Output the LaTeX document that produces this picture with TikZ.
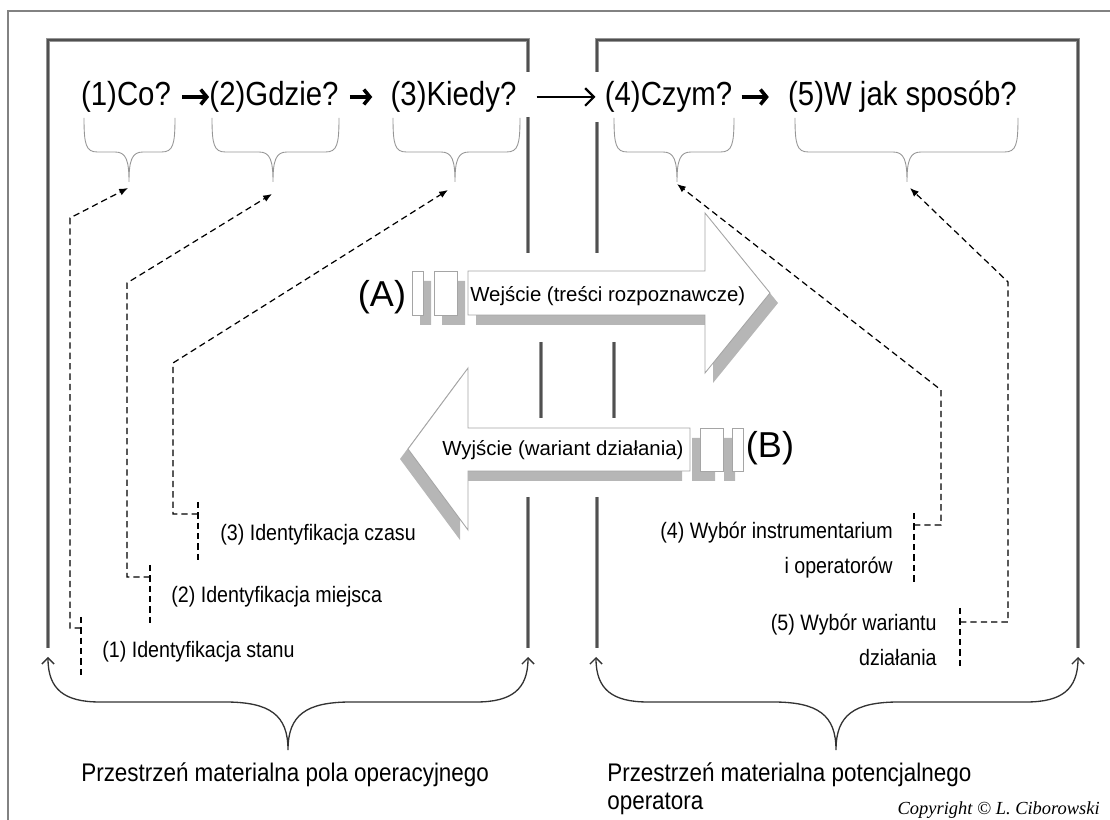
\documentclass[tikz,border=0pt]{standalone}
\usepackage{fontspec}
\setmainfont{Liberation Sans}
\newfontfamily\narrowfont[FakeStretch=0.88]{Liberation Sans}
\newfontfamily\copyfont{Liberation Serif}
\usetikzlibrary{arrows.meta}

\definecolor{wallgray}{RGB}{80,80,80}
\definecolor{walledge}{RGB}{150,150,150}
\definecolor{shadegray}{RGB}{182,182,182}
\definecolor{bracegray}{RGB}{150,150,150}
\definecolor{framegray}{RGB}{130,130,130}
\definecolor{arrowline}{RGB}{165,165,165}

\tikzset{
  wall/.style={line width=1.4pt, draw=wallgray, preaction={draw=walledge, line width=2.5pt}},
  qbrace/.style={draw=bracegray, line width=0.5pt},
  spacebrace/.style={draw=black!80, line width=0.75pt,
    {Straight Barb[length=3.5pt,width=7pt]}-{Straight Barb[length=3.5pt,width=7pt]}},
  link/.style={dash pattern=on 3.6pt off 2.3pt, line width=0.7pt, -{Latex[length=5pt,width=4pt]}},
  tick/.style={dash pattern=on 3.6pt off 2.3pt, line width=0.7pt},
  qarrow/.style={line width=2pt, -{Straight Barb[length=3.5pt,width=8.5pt]}},
  longarrow/.style={line width=1.3pt, -{Straight Barb[length=5pt,width=10pt]}},
  question/.style={font=\narrowfont\fontsize{19}{23}\selectfont, inner sep=0pt},
  idlabel/.style={font=\narrowfont\fontsize{12.7}{20}\selectfont, inner sep=0pt},
  spacelabel/.style={font=\narrowfont\fontsize{14.5}{16}\selectfont, inner sep=0pt},
  flowlabel/.style={font=\fontsize{11.6}{14}\selectfont, inner sep=0pt},
  portlabel/.style={font=\fontsize{20.5}{24}\selectfont, inner sep=0pt},
  bigarrow/.style={fill=white, draw=arrowline, line width=0.5pt}
}

\begin{document}
\begin{tikzpicture}

  \useasboundingbox (0,0) rectangle (22.2,16.4);

  % outer frame
  \draw[framegray, line width=0.6pt] (0.16,-0.5) -- (0.16,16.18) -- (22.7,16.18);

  % field box
  \draw[wall] (0.96,3.44) -- (0.96,15.6) -- (10.56,15.6) -- (10.56,14.96);
  \draw[wall] (10.56,14.06) -- (10.56,11.34);
  \draw[wall] (10.82,9.56) -- (10.82,8.04);
  \draw[wall] (10.56,6.46) -- (10.56,3.44);
  % operator box
  \draw[wall] (11.94,14.96) -- (11.94,15.6) -- (21.56,15.6) -- (21.56,3.44);
  \draw[wall] (11.94,13.96) -- (11.94,11.34);
  \draw[wall] (12.28,9.56) -- (12.28,8.04);
  \draw[wall] (11.94,6.46) -- (11.94,3.44);

  % questions
  \node[question] (co) at (2.52,14.46) {(1)Co?};
  \node[question] (gdzie) at (5.48,14.46) {(2)Gdzie?};
  \node[question] (kiedy) at (9.07,14.46) {(3)Kiedy?};
  \node[question] (czym) at (13.37,14.46) {(4)Czym?};
  \node[question] (sposob) at (18.05,14.46) {(5)W jak sposób?};
  \draw[qarrow, shorten <=0.22cm] (co) -- (gdzie);
  \draw[qarrow, shorten <=0.22cm, shorten >=0.36cm] (gdzie) -- (kiedy);
  \draw[longarrow, shorten <=0.4cm, shorten >=0.18cm] (kiedy) -- (czym);
  \draw[qarrow, shorten <=0.18cm, shorten >=0.38cm] (czym) -- (sposob);

  % braces under the questions
  \draw[qbrace] (1.68,14.04) .. controls (1.68,13.5) and (1.72,13.36) .. (1.95,13.36) -- (2.30,13.36)
    .. controls (2.52,13.36) and (2.58,13.2) .. (2.58,12.76) .. controls (2.58,13.2) and (2.64,13.36) .. (2.86,13.36)
    -- (3.23,13.36) .. controls (3.46,13.36) and (3.5,13.5) .. (3.5,14.04);
  \draw[qbrace] (4.24,14.04) .. controls (4.24,13.5) and (4.28,13.36) .. (4.51,13.36) -- (5.18,13.36)
    .. controls (5.40,13.36) and (5.46,13.2) .. (5.46,12.76) .. controls (5.46,13.2) and (5.52,13.36) .. (5.74,13.36)
    -- (6.51,13.36) .. controls (6.74,13.36) and (6.78,13.5) .. (6.78,14.04);
  \draw[qbrace] (7.86,14.04) .. controls (7.86,13.5) and (7.90,13.36) .. (8.13,13.36) -- (8.82,13.36)
    .. controls (9.04,13.36) and (9.10,13.2) .. (9.10,12.76) .. controls (9.10,13.2) and (9.16,13.36) .. (9.38,13.36)
    -- (10.13,13.36) .. controls (10.36,13.36) and (10.40,13.5) .. (10.40,14.04);
  \draw[qbrace] (12.28,14.04) .. controls (12.28,13.5) and (12.32,13.36) .. (12.55,13.36) -- (13.26,13.36)
    .. controls (13.48,13.36) and (13.54,13.2) .. (13.54,12.76) .. controls (13.54,13.2) and (13.60,13.36) .. (13.82,13.36)
    -- (14.41,13.36) .. controls (14.64,13.36) and (14.68,13.5) .. (14.68,14.04);
  \draw[qbrace] (15.90,14.04) .. controls (15.90,13.5) and (15.94,13.36) .. (16.17,13.36) -- (17.86,13.36)
    .. controls (18.08,13.36) and (18.14,13.2) .. (18.14,12.76) .. controls (18.14,13.2) and (18.20,13.36) .. (18.42,13.36)
    -- (20.09,13.36) .. controls (20.32,13.36) and (20.36,13.5) .. (20.36,14.04);

  % input arrow (A)
  \fill[shadegray, shift={(0.16,-0.2)}] (9.36,10.98) -- (14.1,10.98) -- (14.1,12.14) -- (15.4,10.54)
    -- (14.1,8.94) -- (14.1,10.1) -- (9.36,10.1) -- cycle
    (8.24,10.1) rectangle (8.46,10.98) (8.68,10.1) rectangle (9.14,10.98);
  \filldraw[bigarrow] (9.36,10.98) -- (14.1,10.98) -- (14.1,12.14) -- (15.4,10.54)
    -- (14.1,8.94) -- (14.1,10.1) -- (9.36,10.1) -- cycle;
  \filldraw[bigarrow] (8.24,10.1) rectangle (8.46,10.98) (8.68,10.1) rectangle (9.14,10.98);
  \node[flowlabel, anchor=west] (input) at (9.4,10.48) {Wejście (treści rozpoznawcze)};
  \node[portlabel] (portA) at (7.64,10.46) {(A)};

  % output arrow (B)
  \fill[shadegray, shift={(-0.16,-0.2)}] (13.8,7.84) -- (9.36,7.84) -- (9.36,9.04) -- (8.16,7.42)
    -- (9.36,5.8) -- (9.36,6.98) -- (13.8,6.98) -- cycle
    (14.0,6.98) rectangle (14.46,7.84) (14.64,6.98) rectangle (14.86,7.84);
  \filldraw[bigarrow] (13.8,7.84) -- (9.36,7.84) -- (9.36,9.04) -- (8.16,7.42)
    -- (9.36,5.8) -- (9.36,6.98) -- (13.8,6.98) -- cycle;
  \filldraw[bigarrow] (14.0,6.98) rectangle (14.46,7.84) (14.64,6.98) rectangle (14.86,7.84);
  \node[flowlabel, anchor=west] (output) at (8.84,7.4) {Wyjście (wariant działania)};
  \node[portlabel] (portB) at (15.4,7.44) {(B)};

  % identification steps
  \node[idlabel, anchor=west] (id1) at (2.04,3.36) {(1) Identyfikacja stanu};
  \node[idlabel, anchor=west] (id2) at (3.42,4.46) {(2) Identyfikacja miejsca};
  \node[idlabel, anchor=west] (id3) at (4.4,5.7) {(3) Identyfikacja czasu};
  \node[idlabel, anchor=east, align=right] (id4) at (17.86,5.39) {(4) Wybór instrumentarium\\i operatorów};
  \node[idlabel, anchor=east, align=right] (id5) at (18.74,3.6) {(5) Wybór wariantu\\działania};

  % dashed links to the braces
  \coordinate (t1) at (2.56,12.64);
  \coordinate (c1) at (1.4,12.04);
  \coordinate (s1) at (1.62,3.84);
  \coordinate (t2) at (5.44,12.52);
  \coordinate (c2) at (2.54,10.74);
  \coordinate (s2) at (3.0,4.86);
  \coordinate (t3) at (8.96,12.6);
  \coordinate (c3) at (3.46,9.14);
  \coordinate (s3) at (3.96,6.12);
  \coordinate (t4) at (13.54,12.72);
  \coordinate (c4) at (18.82,8.6);
  \coordinate (s4) at (18.28,5.9);
  \coordinate (t5) at (18.2,12.64);
  \coordinate (c5) at (20.16,10.76);
  \coordinate (s5) at (19.2,3.96);
  \draw[link] (s1) -| (c1) -- (t1);
  \draw[link] (s2) -| (c2) -- (t2);
  \draw[link] (s3) -| (c3) -- (t3);
  \draw[link] (s4) -| (c4) -- (t4);
  \draw[link] (s5) -| (c5) -- (t5);
  \draw[tick] (1.62,4.06) -- (1.62,2.86);
  \draw[tick] (3.0,5.1) -- (3.0,3.86);
  \draw[tick] (3.96,6.36) -- (3.96,5.16);
  \draw[tick] (18.28,6.14) -- (18.28,4.76);
  \draw[tick] (19.2,4.24) -- (19.2,3.04);

  % braces under the boxes
  \draw[spacebrace] (0.96,3.26) .. controls (0.96,2.6) and (1.3,2.36) .. (2.0,2.36) -- (4.5,2.36)
    .. controls (5.4,2.36) and (5.76,2.1) .. (5.76,1.4) .. controls (5.76,2.1) and (6.12,2.36) .. (7.02,2.36)
    -- (9.52,2.36) .. controls (10.22,2.36) and (10.56,2.6) .. (10.56,3.26);
  \draw[spacebrace] (11.92,3.26) .. controls (11.92,2.6) and (12.26,2.36) .. (12.96,2.36) -- (15.46,2.36)
    .. controls (16.36,2.36) and (16.72,2.1) .. (16.72,1.4) .. controls (16.72,2.1) and (17.08,2.36) .. (17.98,2.36)
    -- (20.52,2.36) .. controls (21.22,2.36) and (21.56,2.6) .. (21.56,3.26);

  % space labels
  \node[spacelabel, anchor=west] (fieldspace) at (1.62,0.9) {Przestrzeń materialna pola operacyjnego};
  \node[spacelabel, anchor=west, align=left] (operspace) at (12.14,0.62) {Przestrzeń materialna potencjalnego\\operatora};
  \node[anchor=east, inner sep=0pt, font=\copyfont\itshape\fontsize{10.5}{12}\selectfont] (copyr) at (22.0,0.2) {Copyright © L. Ciborowski};

\end{tikzpicture}
\end{document}
